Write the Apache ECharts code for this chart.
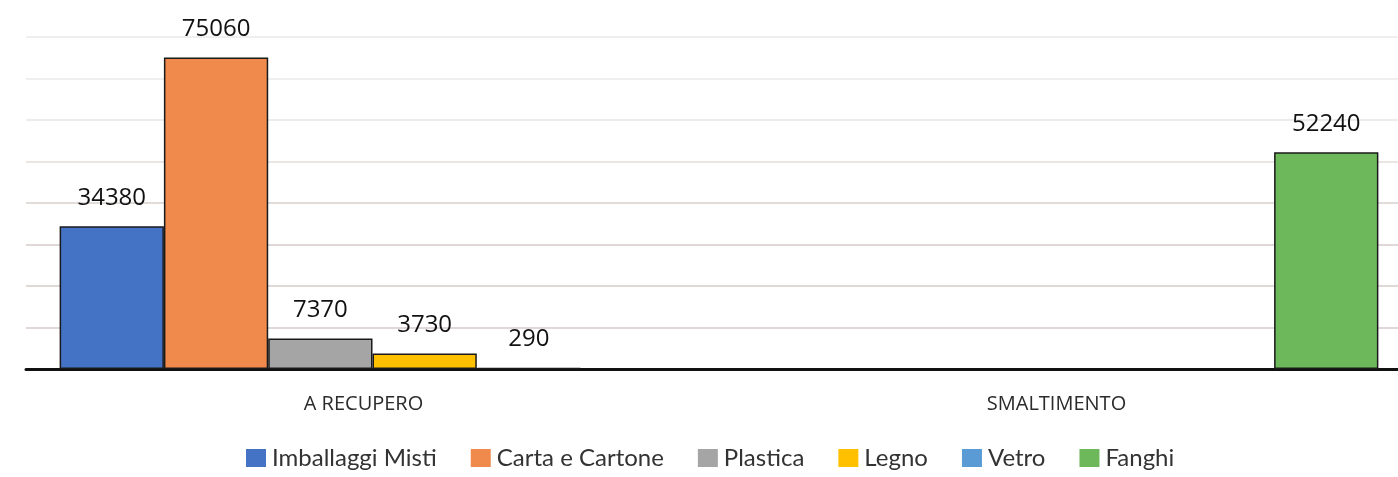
<!DOCTYPE html>
<html>
<head>
<meta charset="utf-8">
<script src="https://cdn.jsdelivr.net/npm/echarts@6/dist/echarts.min.js"></script>
<style>
  html, body { margin: 0; padding: 0; background: #fff; overflow: hidden; }
  /* the plot runs a little past the right edge of the window */
  #chart { width: 1412px; height: 477px; }
</style>
</head>
<body>
<div id="chart"></div>
<script>
const categories = ['A RECUPERO', 'SMALTIMENTO']
const seriesNames = ['Imballaggi Misti', 'Carta e Cartone', 'Plastica', 'Legno', 'Vetro', 'Fanghi']
const imballaggi = [34380, null]
const carta = [75060, null]
const plastica = [7370, null]
const legno = [3730, null]
const vetro = [290, null]
const fanghi = [null, 52240]

const values = [imballaggi, carta, plastica, legno, vetro, fanghi]
const colors = ['#4472C4', '#EF8A4C', '#A5A5A5', '#FFC000', '#5B9BD5', '#6DB85A']

const chart = echarts.init(document.getElementById('chart'))

const option = {
  backgroundColor: '#fff',
  animation: false,
  grid: { left: 26, right: 0, top: 37, bottom: 108 },
  legend: {
    top: 441,
    left: 241,
    itemWidth: 20,
    itemHeight: 18,
    itemGap: 34,
    icon: 'rect',
    data: seriesNames,
    itemStyle: { borderWidth: 0 },
    textStyle: { color: '#333', fontSize: 24, fontFamily: 'Lato', padding: [0, 0, 0, 1] },
  },
  xAxis: {
    type: 'category',
    data: categories,
    axisLine: { lineStyle: { color: '#111', width: 3 } },
    axisTick: { show: false },
    axisLabel: { color: '#2b2b2b', fontSize: 20, fontFamily: 'Open Sans', margin: 25, padding: [0, 18, 0, 0] },
  },
  yAxis: {
    type: 'value',
    min: 0,
    max: 80000,
    interval: 10000,
    axisLabel: { show: false },
    axisLine: { show: false },
    axisTick: { show: false },
    splitLine: {
      lineStyle: {
        width: 1.5,
        color: ['#d4cbc8', '#d4cbc8', '#d4cbc8', '#d4cbc8', '#d8d0cd', '#e3dcd9', '#e9e5e3', '#edeae9', '#edeae9'],
      },
    },
  },
  series: seriesNames.map((name, i) => ({
    name,
    type: 'bar',
    data: values[i],
    barGap: '0%',
    barCategoryGap: '9.7%',
    itemStyle: { color: colors[i], borderColor: '#1a1a1a', borderWidth: 1.5 },
    label: {
      show: true,
      position: 'top',
      distance: 16,
      color: '#111',
      fontSize: 24,
      fontFamily: 'Open Sans',
    },
  })),
}

chart.setOption(option)
</script>
</body>
</html>
